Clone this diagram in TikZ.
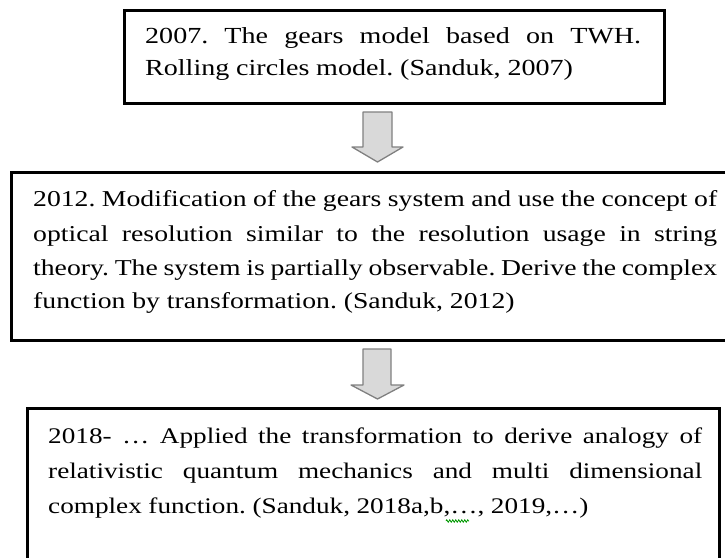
\documentclass[tikz,border=0pt]{standalone}
\usepackage{fontspec}
\setmainfont[FakeStretch=1.22]{Liberation Serif}
\usetikzlibrary{decorations.pathmorphing}
\newcommand\jline[2]{\makebox[#1][s]{#2}}
\begin{document}
\begin{tikzpicture}[x=1pt,y=-1pt,
  box/.style={draw=black,line width=3pt,fill=none,inner sep=0pt},
  txt/.style={anchor=base west,inner sep=0pt},
  fa/.style={font={\fontsize{23}{27}\selectfont\spaceskip=6.8pt plus 40pt minus 3.5pt\xspaceskip=\spaceskip}},
  fb/.style={font={\fontsize{22.7}{27}\selectfont\spaceskip=6.9pt plus 40pt minus 3.2pt\xspaceskip=\spaceskip}},
  fc/.style={font={\fontsize{22.3}{26}\selectfont\spaceskip=6.6pt plus 40pt minus 3pt\xspaceskip=\spaceskip}},
  blockarrow/.style={draw=black!50,line width=1.3pt,fill=black!15,line join=round}]
\useasboundingbox (0,0) rectangle (725,557);
\clip (0,0) rectangle (725,557);
% boxes
\node[box,minimum width=540pt,minimum height=93pt] (b1) at (394,56.5) {};
\node[box,minimum width=719pt,minimum height=168pt] (b2) at (370.5,256) {};
\node[box,minimum width=692pt,minimum height=157pt] (b3) at (373,486.5) {};
% block arrows
\draw[blockarrow] (363,112) -- (392,112) -- (392,147) -- (403,147) -- (377.5,162)
  -- (352,147) -- (363,147) -- cycle;
\draw[blockarrow] (363,349) -- (391,349) -- (391,385) -- (404,385) -- (377.5,399)
  -- (351,385) -- (363,385) -- cycle;
% box 1 text
\node[txt,fa] (t11) at (145,43) {\jline{496pt}{2007. The gears model based on TWH.}};
\node[txt,fa] (t12) at (145,75) {Rolling circles model. (Sanduk, 2007)};
% box 2 text
\node[txt,fb] (t21) at (33,206) {\jline{684pt}{2012. Modification of the gears system and use the concept of}};
\node[txt,fb] (t22) at (33,241) {\jline{684pt}{optical resolution similar to the resolution usage in string}};
\node[txt,fb] (t23) at (33,275) {\jline{684pt}{theory. The system is partially observable. Derive the complex}};
\node[txt,fb] (t24) at (33,308) {function by transformation. (Sanduk, 2012)};
% box 3 text
\node[txt,fc] (t31) at (48,443) {\jline{654pt}{2018- … Applied the transformation to derive analogy of}};
\node[txt,fc] (t32) at (48,478) {\jline{654pt}{relativistic quantum mechanics and multi dimensional}};
\node[txt,fc] (t33) at (48,513) {complex function. (Sanduk, 2018a,b,…, 2019,…)};
% spell-check mark
\draw[green!60!black,line width=0.8pt,decorate,decoration={zigzag,amplitude=1.2pt,segment length=3pt}]
  (446,521) -- (469,521);
\end{tikzpicture}
\end{document}
